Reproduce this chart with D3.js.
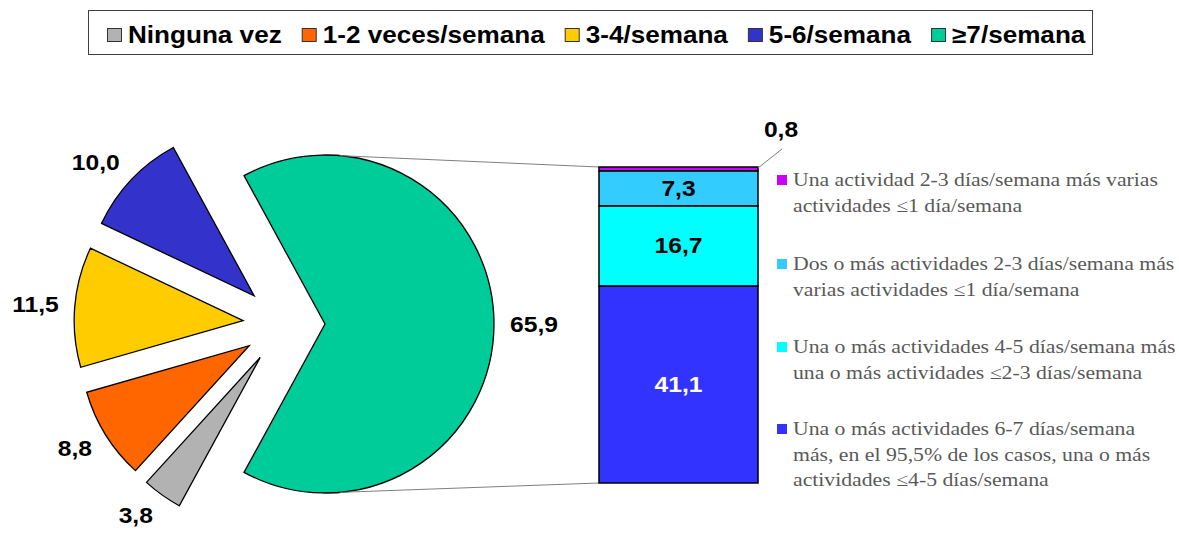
<!DOCTYPE html>
<html>
<head>
<meta charset="utf-8">
<script src="https://cdn.jsdelivr.net/npm/d3@7"></script>
<style>
  html, body { margin: 0; padding: 0; background: #fff; }
  svg { display: block; }
</style>
</head>
<body>
<script>
// ---------- DATA ----------
const categories = ["Ninguna vez", "1-2 veces/semana", "3-4/semana", "5-6/semana", "≥7/semana"];
const pieValues = [3.8, 8.8, 11.5, 10.0, 65.9];
const pieLabels = ["3,8", "8,8", "11,5", "10,0", "65,9"];
const pieColors = ["#B2B2B2", "#FF6600", "#FFCC00", "#3333CC", "#00CC99"];

// stacked bar (bottom to top)
const barValues = [41.1, 16.7, 7.3, 0.8];
const barLabels = ["41,1", "16,7", "7,3", "0,8"];
const barColors = ["#3333FF", "#00FFFF", "#33CCFF", "#CC00FF"];
const barLegendLines = [
  ["Una o más actividades 6-7 días/semana", "más, en el 95,5% de los casos, una o más", "actividades ≤4-5 días/semana"],
  ["Una o más actividades 4-5 días/semana más", "una o más actividades ≤2-3 días/semana"],
  ["Dos o más actividades 2-3 días/semana más", "varias actividades ≤1 día/semana"],
  ["Una actividad 2-3 días/semana más varias", "actividades ≤1 día/semana"]
];

// ---------- LAYOUT ----------
const W = 1179, H = 533;
const SX = 1.12;   // horizontal text stretch seen in reference
const SXL = 1.135; // top legend stretch
const SXS = 1.175; // serif legend stretch
const svg = d3.select("body").append("svg").attr("width", W).attr("height", H);
svg.append("rect").attr("width", W).attr("height", H).attr("fill", "#fff");

// ---------- PIE ----------
const cx = 284, cy = 324, R = 169, explode = 41, labelDist = R + 16;
const order = [4, 0, 1, 2, 3]; // big slice first, centred on the right
const total = d3.sum(pieValues);
const bigShare = pieValues[4] / total;
const start = Math.PI / 2 - bigShare * Math.PI;
const pie = d3.pie().sort(null).value(i => pieValues[i])
  .startAngle(start).endAngle(start + 2 * Math.PI);
const arcs = pie(order);
const arcGen = d3.arc().innerRadius(0).outerRadius(R);

const gPie = svg.append("g");
arcs.forEach(a => {
  const mid = (a.startAngle + a.endAngle) / 2;
  const dx = Math.sin(mid), dy = -Math.cos(mid);
  const ox = cx + explode * dx, oy = cy + explode * dy;
  a.ox = ox; a.oy = oy;
  gPie.append("path")
    .attr("d", arcGen(a))
    .attr("transform", `translate(${ox},${oy})`)
    .attr("fill", pieColors[a.data])
    .attr("stroke", "#000").attr("stroke-width", 1.3)
    .attr("stroke-linejoin", "miter");
  const t = gPie.append("text")
    .attr("text-anchor", "middle").attr("dominant-baseline", "central")
    .attr("font-family", "Liberation Sans, Arial, sans-serif")
    .attr("font-weight", "bold").attr("font-size", 22)
    .attr("fill", "#000")
    .text(pieLabels[a.data]);
  const hw = t.node().getComputedTextLength() * SX / 2;
  const lx = ox + labelDist * dx + Math.sign(dx) * hw;
  const ly = oy + labelDist * dy + dy * 9;
  t.attr("transform", `translate(${lx},${ly}) scale(${SX},1)`);
});

// ---------- BAR ----------
const barX = 599, barW = 159;
const y = d3.scaleLinear().domain([0, d3.sum(barValues)]).range([483, 167]);
const stacks = [];
let acc = 0;
barValues.forEach((v, i) => { stacks.push({ i, y0: acc, y1: acc + v }); acc += v; });

// connector lines from big slice to bar
const big = arcs[0];
const conTop = 5 * Math.PI / 180, conBot = 175 * Math.PI / 180;
svg.append("line")
  .attr("x1", big.ox + R * Math.sin(conTop)).attr("y1", big.oy - R * Math.cos(conTop))
  .attr("x2", barX).attr("y2", y(acc))
  .attr("stroke", "#7f7f7f").attr("stroke-width", 1);
svg.append("line")
  .attr("x1", big.ox + R * Math.sin(conBot)).attr("y1", big.oy - R * Math.cos(conBot))
  .attr("x2", barX).attr("y2", y(0))
  .attr("stroke", "#7f7f7f").attr("stroke-width", 1);

const gBar = svg.append("g");
stacks.forEach(s => {
  gBar.append("rect")
    .attr("x", barX).attr("y", y(s.y1))
    .attr("width", barW).attr("height", y(s.y0) - y(s.y1))
    .attr("fill", barColors[s.i])
    .attr("stroke", "#000").attr("stroke-width", 1.5);
});
stacks.forEach(s => {
  const h = y(s.y0) - y(s.y1);
  if (h > 20) {
    gBar.append("text")
      .attr("transform", `translate(${barX + barW / 2},${(y(s.y0) + y(s.y1)) / 2}) scale(${SX},1)`)
      .attr("text-anchor", "middle").attr("dominant-baseline", "central")
      .attr("font-family", "Liberation Sans, Arial, sans-serif")
      .attr("font-weight", "bold").attr("font-size", 22)
      .attr("fill", s.i === 0 ? "#fff" : "#000")
      .text(barLabels[s.i]);
  } else {
    // small top segment: label outside with leader line
    const tx = barX + barW, ty = y(s.y1);
    gBar.append("line")
      .attr("x1", tx).attr("y1", ty + 1).attr("x2", tx + 24).attr("y2", ty - 18)
      .attr("stroke", "#7f7f7f").attr("stroke-width", 1);
    gBar.append("text")
      .attr("transform", `translate(${tx + 23},${ty - 38}) scale(${SX},1)`)
      .attr("text-anchor", "middle").attr("dominant-baseline", "central")
      .attr("font-family", "Liberation Sans, Arial, sans-serif")
      .attr("font-weight", "bold").attr("font-size", 22)
      .attr("fill", "#000")
      .text(barLabels[s.i]);
  }
});

// ---------- BAR LEGEND ----------
const gLeg2 = svg.append("g");
const legTops = [180, 264, 347, 429]; // first-line centres, top to bottom
const lineH = 25.5;
[3, 2, 1, 0].forEach((si, k) => {
  const y0 = legTops[k];
  gLeg2.append("rect")
    .attr("x", 777).attr("y", y0 - 5).attr("width", 10).attr("height", 10)
    .attr("fill", barColors[si]);
  barLegendLines[si].forEach((ln, j) => {
    gLeg2.append("text")
      .attr("transform", `translate(793,${y0 + j * lineH}) scale(${SXS},1)`)
      .attr("dominant-baseline", "central")
      .attr("font-family", "Liberation Serif, Times New Roman, serif")
      .attr("font-size", 18.5)
      .attr("fill", "#595959")
      .text(ln);
  });
});

// ---------- TOP LEGEND ----------
const gLeg = svg.append("g");
gLeg.append("rect")
  .attr("x", 88.5).attr("y", 10.5).attr("width", 1004).attr("height", 44)
  .attr("fill", "#fff").attr("stroke", "#404040").attr("stroke-width", 1);
let xc = 107;
categories.forEach((c, i) => {
  gLeg.append("rect")
    .attr("x", xc + 0.5).attr("y", 28.5).attr("width", 14).attr("height", 13)
    .attr("fill", pieColors[i]).attr("stroke", "#333").attr("stroke-width", 1);
  const t = gLeg.append("text")
    .attr("transform", `translate(${xc + 21},35) scale(${SXL},1)`)
    .attr("dominant-baseline", "central")
    .attr("font-family", "Liberation Sans, Arial, sans-serif")
    .attr("font-weight", "bold").attr("font-size", 23)
    .attr("fill", "#000")
    .text(c);
  const w = t.node().getComputedTextLength() * SXL;
  xc = xc + 21 + w + 20;
});
</script>
</body>
</html>
